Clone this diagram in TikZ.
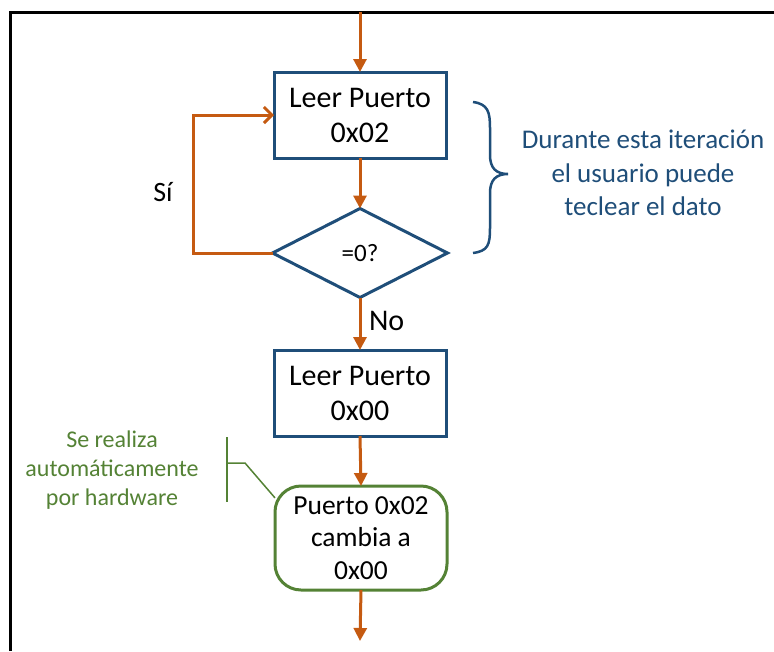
\documentclass[tikz,border=0pt]{standalone}
\usepackage{fontspec}
\setmainfont{Carlito}
\usetikzlibrary{arrows.meta,shapes.geometric}
\definecolor{flujo}{HTML}{C55A11}
\definecolor{azul}{HTML}{1F4E79}
\definecolor{verde}{HTML}{548235}
\begin{document}
\begin{tikzpicture}[x={(1pt,0pt)},y={(0pt,-1pt)},
  every node/.style={outer sep=0pt, align=center, font=\fontsize{30}{35}\selectfont},
  caja/.style={draw=azul, line width=3pt, minimum width=172pt, minimum height=86pt, inner sep=0pt},
  rombo/.style={draw=azul, line width=3pt, diamond, aspect=1.97, minimum width=175pt, minimum height=89pt, inner sep=0pt, font=\fontsize{25}{30}\selectfont},
  redondo/.style={draw=verde, line width=3pt, rounded corners=26pt, minimum width=172pt, minimum height=104pt, inner sep=0pt, font=\fontsize{27.5}{32.5}\selectfont},
  flecha/.style={draw=flujo, line width=3pt, -{Triangle[width=13pt,length=13pt]}},
  vuelta/.style={draw=flujo, line width=3pt, -{Straight Barb[width=16pt,length=8pt]}}]

\useasboundingbox (0,0) rectangle (774,651);
\draw[line width=3pt] (10,651) -- (10,12) -- (774,12);

\coordinate (entrada) at (360,12);
\node[caja] (leer1) at (360,115) {Leer Puerto\\0x02};
\node[rombo] (cero) at (360,253) {=0?};
\node[caja] (leer2) at (360,393) {Leer Puerto\\0x00};
\node[redondo] (cambio) at (361,538) {Puerto 0x02\\cambia a\\0x00};
\coordinate (salida) at (360,641);
\coordinate (giro) at (193,0);

\draw[flecha] (entrada) -- (leer1.north);
\draw[flecha] (leer1.south) -- (cero.north);
\draw[flecha] (cero.south) -- node[right, pos=0.45, inner sep=9pt, font=\fontsize{30}{35}\selectfont] (no) {No} (leer2.north);
\draw[flecha] (leer2.south) -- (cambio.north);
\draw[flecha] (cambio.south) -- (salida);
\draw[vuelta] (cero.west) -| (giro |- leer1.west) -- (leer1.west);
\node[font=\fontsize{28}{32}\selectfont] (si) at (163,192) {Sí};

\draw[azul, line width=2.5pt] (473,102) .. controls (488,104) and (490,112) .. (490,128) -- (490,155) .. controls (490,168) and (496,174) .. (508,174) .. controls (496,174) and (490,180) .. (490,193) -- (490,228) .. controls (490,245) and (488,251) .. (473,253);
\node[text=azul, font=\fontsize{27}{33.5}\selectfont] (nota) at (643,173) {Durante esta iteración\\el usuario puede\\teclear el dato};

\node[text=verde, font=\fontsize{24}{29}\selectfont] (hw) at (112,470) {Se realiza\\automáticamente\\por hardware};
\coordinate (llave) at (245,463);
\draw[verde, line width=1.5pt] (227,437) -- (227,502);
\draw[verde, line width=1.5pt] (227,463) -- (llave) -- (cambio.155);
\end{tikzpicture}
\end{document}
